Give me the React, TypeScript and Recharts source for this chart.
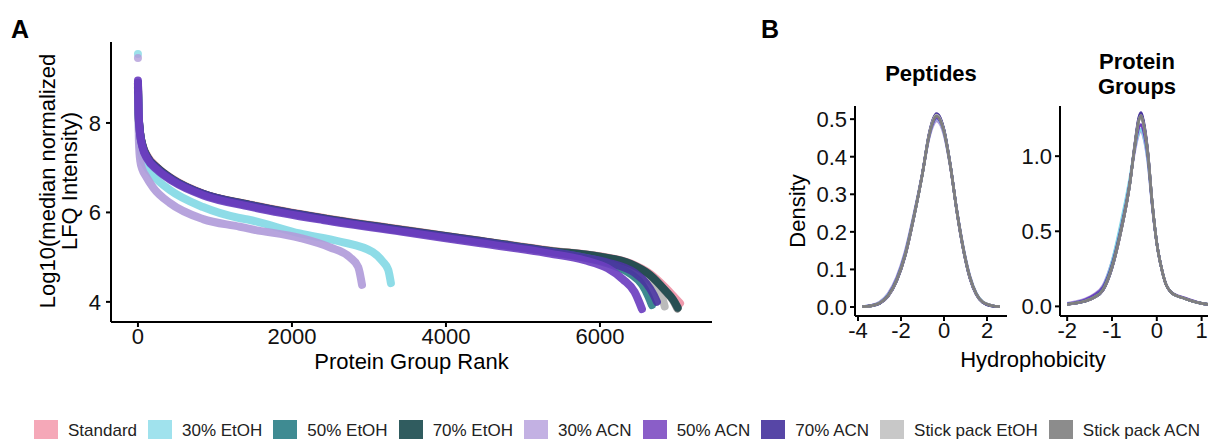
import React from 'react';
import { ComposedChart, LineChart, Line, Scatter, XAxis, YAxis } from 'recharts';

const FONT = '"Liberation Sans", Arial, Helvetica, sans-serif';

// ---------- series ----------
const seriesNames = ['Standard', '30% EtOH', '50% EtOH', '70% EtOH', '30% ACN', '50% ACN', '70% ACN', 'Stick pack EtOH', 'Stick pack ACN'];
const swatchColors = ['#F5A8B8', '#A0E2ED', '#3F8B92', '#305C5F', '#C3B1E3', '#8A5EC8', '#5746A6', '#C8C8C8', '#8C8C8C'];
const curveColors = ['#EE93A6', '#84D9E5', '#2E8087', '#1E4A4E', '#B19CDA', '#6C3FC0', '#4A35A0', '#B5B5B5', '#7E7E7E'];

// ---------- Panel A: protein group rank vs log10 intensity ----------
const rankTicks = [0, 2000, 4000, 6000];
const lfqTicks = [4, 6, 8];

const rankStandard = [0, 8, 25, 60, 120, 250, 450, 850, 1450, 2400, 3500, 4450, 5350, 6000, 6400, 6650, 6850, 6970, 7040];
const lfqStandard = [8.85, 8.15, 7.8, 7.5, 7.27, 7.01, 6.75, 6.42, 6.18, 5.88, 5.6, 5.37, 5.15, 5.02, 4.86, 4.63, 4.32, 4.1, 3.97];

const rank30EtOH = [3, 12, 30, 60, 100, 200, 415, 845, 1300, 1455, 2100, 2620, 3050, 3180, 3250, 3285];
const lfq30EtOH = [8.6, 7.9, 7.45, 7.2, 7.05, 6.82, 6.5, 6.12, 5.88, 5.83, 5.53, 5.35, 5.11, 4.9, 4.72, 4.42];

const rank50EtOH = [0, 8, 25, 60, 120, 250, 450, 850, 1450, 2400, 3500, 4450, 5350, 5800, 6100, 6400, 6550, 6630, 6675];
const lfq50EtOH = [8.8, 8.25, 7.8, 7.47, 7.22, 6.97, 6.72, 6.4, 6.15, 5.85, 5.57, 5.34, 5.12, 4.99, 4.86, 4.62, 4.38, 4.12, 3.93];

const rank70EtOH = [0, 8, 25, 60, 120, 250, 450, 850, 1450, 2400, 3500, 4450, 5350, 6000, 6400, 6650, 6850, 6950, 7010];
const lfq70EtOH = [8.9, 8.2, 7.82, 7.5, 7.25, 7.0, 6.74, 6.41, 6.17, 5.87, 5.59, 5.36, 5.14, 5.01, 4.85, 4.6, 4.25, 4.05, 3.87];

const rank30ACN = [3, 12, 30, 60, 100, 200, 415, 845, 1325, 1455, 2100, 2490, 2750, 2860, 2910];
const lfq30ACN = [8.5, 7.6, 7.15, 6.95, 6.82, 6.55, 6.21, 5.85, 5.68, 5.63, 5.43, 5.22, 5.0, 4.78, 4.38];

const rank50ACN = [0, 8, 25, 60, 120, 250, 450, 850, 1450, 2400, 3500, 4450, 5350, 5800, 6100, 6300, 6450, 6545];
const lfq50ACN = [8.95, 8.3, 7.8, 7.45, 7.2, 6.95, 6.7, 6.38, 6.13, 5.83, 5.55, 5.31, 5.08, 4.93, 4.75, 4.5, 4.22, 3.84];

const rank70ACN = [0, 8, 25, 60, 120, 250, 450, 850, 1450, 2400, 3500, 4450, 5350, 5800, 6100, 6450, 6600, 6700, 6740];
const lfq70ACN = [8.9, 8.22, 7.8, 7.47, 7.23, 6.98, 6.73, 6.41, 6.16, 5.86, 5.58, 5.35, 5.12, 4.99, 4.88, 4.65, 4.42, 4.15, 4.0];

const rankStickEtOH = [0, 8, 25, 60, 120, 250, 450, 850, 1450, 2400, 3500, 4450, 5350, 6000, 6350, 6600, 6750, 6810, 6840];
const lfqStickEtOH = [8.7, 8.1, 7.78, 7.47, 7.23, 6.98, 6.73, 6.41, 6.16, 5.86, 5.58, 5.35, 5.13, 4.98, 4.8, 4.55, 4.28, 4.08, 3.9];

const rankStickACN = [0, 8, 25, 60, 120, 250, 450, 850, 1450, 2400, 3500, 4450, 5350, 6000, 6400, 6650, 6850, 6950, 7005];
const lfqStickACN = [8.8, 8.18, 7.81, 7.49, 7.24, 6.99, 6.73, 6.41, 6.17, 5.87, 5.59, 5.36, 5.14, 5.01, 4.84, 4.6, 4.24, 4.03, 3.85];

// isolated top points
const topSeriesIndex = [1, 4];
const topRank = [0, 0];
const topLfq = [9.54, 9.45];

const rankArrays = [rankStandard, rank30EtOH, rank50EtOH, rank70EtOH, rank30ACN, rank50ACN, rank70ACN, rankStickEtOH, rankStickACN];
const lfqArrays = [lfqStandard, lfq30EtOH, lfq50EtOH, lfq70EtOH, lfq30ACN, lfq50ACN, lfq70ACN, lfqStickEtOH, lfqStickACN];
const drawOrderA = [7, 0, 8, 3, 2, 1, 4, 6, 5];

// ---------- Panel B: hydrophobicity densities ----------
const pepTicksX = [-4, -2, 0, 2];
const pepTicksY = [0, 0.1, 0.2, 0.3, 0.4, 0.5];
const pepHydro = [-3.8, -3.4, -3.0, -2.6, -2.2, -1.8, -1.4, -1.0, -0.7, -0.5, -0.35, -0.2, 0.0, 0.3, 0.6, 0.9, 1.2, 1.5, 1.8, 2.2, 2.6];
const pepStandard = [0.001, 0.003, 0.010, 0.029, 0.071, 0.139, 0.240, 0.356, 0.456, 0.497, 0.509, 0.501, 0.468, 0.374, 0.254, 0.154, 0.079, 0.034, 0.013, 0.004, 0.001];
const pep30EtOH = [0.001, 0.004, 0.012, 0.033, 0.076, 0.145, 0.244, 0.357, 0.452, 0.490, 0.502, 0.494, 0.463, 0.373, 0.256, 0.157, 0.082, 0.036, 0.014, 0.004, 0.001];
const pep50EtOH = [0.001, 0.003, 0.010, 0.030, 0.072, 0.140, 0.241, 0.356, 0.457, 0.498, 0.511, 0.503, 0.470, 0.375, 0.254, 0.154, 0.079, 0.034, 0.013, 0.004, 0.001];
const pep70EtOH = [0.001, 0.003, 0.009, 0.029, 0.070, 0.138, 0.239, 0.356, 0.458, 0.500, 0.513, 0.505, 0.471, 0.376, 0.254, 0.153, 0.078, 0.034, 0.012, 0.003, 0.001];
const pep30ACN = [0.001, 0.004, 0.013, 0.036, 0.080, 0.150, 0.248, 0.358, 0.448, 0.484, 0.495, 0.488, 0.458, 0.371, 0.257, 0.159, 0.084, 0.037, 0.014, 0.004, 0.001];
const pep50ACN = [0.001, 0.004, 0.011, 0.032, 0.075, 0.144, 0.243, 0.356, 0.452, 0.491, 0.503, 0.496, 0.465, 0.374, 0.256, 0.156, 0.081, 0.035, 0.013, 0.004, 0.001];
const pep70ACN = [0.001, 0.003, 0.009, 0.028, 0.069, 0.137, 0.239, 0.357, 0.460, 0.502, 0.515, 0.507, 0.472, 0.376, 0.253, 0.152, 0.077, 0.033, 0.012, 0.003, 0.001];
const pepStickEtOH = [0.001, 0.003, 0.010, 0.029, 0.071, 0.139, 0.240, 0.356, 0.457, 0.499, 0.511, 0.503, 0.469, 0.375, 0.254, 0.154, 0.079, 0.034, 0.013, 0.004, 0.001];
const pepStickACN = [0.001, 0.003, 0.010, 0.030, 0.071, 0.139, 0.240, 0.355, 0.455, 0.496, 0.508, 0.500, 0.467, 0.374, 0.255, 0.155, 0.080, 0.035, 0.013, 0.004, 0.001];

const pgTicksX = [-2, -1, 0, 1];
const pgTicksY = [0, 0.5, 1.0];
const pgHydro = [-2.0, -1.8, -1.6, -1.4, -1.2, -1.0, -0.8, -0.6, -0.5, -0.4, -0.35, -0.3, -0.2, -0.1, 0.0, 0.1, 0.2, 0.3, 0.45, 0.6, 0.8, 1.0, 1.2];
const pgStandard = [0.013, 0.022, 0.035, 0.06, 0.11, 0.26, 0.50, 0.82, 1.05, 1.24, 1.27, 1.22, 1.02, 0.68, 0.42, 0.26, 0.15, 0.10, 0.07, 0.055, 0.035, 0.02, 0.012];
const pg30EtOH = [0.015, 0.026, 0.042, 0.07, 0.13, 0.30, 0.56, 0.86, 1.04, 1.16, 1.18, 1.14, 0.97, 0.67, 0.42, 0.26, 0.15, 0.10, 0.07, 0.055, 0.035, 0.02, 0.012];
const pg50EtOH = [0.014, 0.023, 0.036, 0.062, 0.115, 0.27, 0.51, 0.82, 1.05, 1.24, 1.27, 1.22, 1.02, 0.68, 0.42, 0.26, 0.15, 0.10, 0.07, 0.055, 0.035, 0.02, 0.012];
const pg70EtOH = [0.013, 0.022, 0.034, 0.058, 0.108, 0.255, 0.50, 0.82, 1.05, 1.25, 1.28, 1.23, 1.02, 0.68, 0.42, 0.26, 0.15, 0.10, 0.07, 0.055, 0.035, 0.02, 0.012];
const pg30ACN = [0.02, 0.032, 0.05, 0.08, 0.14, 0.30, 0.54, 0.84, 1.02, 1.15, 1.17, 1.13, 0.96, 0.66, 0.42, 0.26, 0.15, 0.10, 0.075, 0.06, 0.04, 0.02, 0.012];
const pg50ACN = [0.018, 0.028, 0.045, 0.075, 0.13, 0.28, 0.52, 0.83, 1.04, 1.19, 1.21, 1.17, 0.99, 0.67, 0.42, 0.26, 0.15, 0.10, 0.072, 0.058, 0.038, 0.02, 0.012];
const pg70ACN = [0.012, 0.021, 0.034, 0.058, 0.107, 0.255, 0.50, 0.82, 1.06, 1.26, 1.29, 1.24, 1.03, 0.68, 0.42, 0.26, 0.15, 0.10, 0.07, 0.055, 0.035, 0.02, 0.012];
const pgStickEtOH = [0.013, 0.022, 0.035, 0.06, 0.11, 0.26, 0.50, 0.82, 1.05, 1.24, 1.27, 1.22, 1.02, 0.68, 0.42, 0.26, 0.15, 0.10, 0.07, 0.055, 0.035, 0.02, 0.012];
const pgStickACN = [0.013, 0.022, 0.035, 0.06, 0.11, 0.26, 0.50, 0.82, 1.05, 1.24, 1.27, 1.22, 1.02, 0.68, 0.42, 0.26, 0.15, 0.10, 0.07, 0.055, 0.035, 0.02, 0.012];

const pepArrays = [pepStandard, pep30EtOH, pep50EtOH, pep70EtOH, pep30ACN, pep50ACN, pep70ACN, pepStickEtOH, pepStickACN];
const pgArrays = [pgStandard, pg30EtOH, pg50EtOH, pg70EtOH, pg30ACN, pg50ACN, pg70ACN, pgStickEtOH, pgStickACN];
const drawOrderB = [4, 1, 5, 0, 2, 3, 6, 7, 8];

// ---------- built tables ----------
const curvesA = rankArrays.map((ranks, i) => ranks.map((r, j) => ({ rank: r, v: lfqArrays[i][j] })));
const topPoints = topSeriesIndex.map((s, k) => ({ s, data: [{ rank: topRank[k], v: topLfq[k] }] }));
const buildRows = (xs: number[], arrays: number[][]) =>
  xs.map((x, j) => {
    const row: Record<string, number> = { x };
    arrays.forEach((arr, i) => { row['s' + i] = arr[j]; });
    return row;
  });
const pepRows = buildRows(pepHydro, pepArrays);
const pgRows = buildRows(pgHydro, pgArrays);

const axisStyle = { stroke: '#000', strokeWidth: 2 };
const tickStyle = { fill: '#111', fontSize: 22, fontFamily: FONT };
const fmt1 = (v: number) => v.toFixed(1);

export default function App() {
  return (
    <div style={{ position: 'absolute', left: 0, top: 0, width: 1208, height: 439, overflow: 'hidden', background: '#fff', fontFamily: FONT }}>
      {/* Panel A */}
      <div style={{ position: 'absolute', left: 0, top: 0 }}>
        <ComposedChart width={730} height={380} margin={{ top: 42, right: 18, bottom: 8, left: 0 }}>
          <XAxis type="number" dataKey="rank" domain={[-350, 7455]} ticks={rankTicks} allowDataOverflow
            height={50} tickSize={5} tickMargin={1} tick={tickStyle} axisLine={axisStyle} tickLine={axisStyle} />
          <YAxis type="number" dataKey="v" domain={[3.55, 9.81]} ticks={lfqTicks} allowDataOverflow
            width={111} tickSize={5} tickMargin={5} tick={tickStyle} axisLine={axisStyle} tickLine={axisStyle} />
          {drawOrderA.map((i) => (
            <Line key={'a' + i} data={curvesA[i]} dataKey="v" type="monotone" stroke={curveColors[i]} strokeWidth={8}
              strokeOpacity={0.92} strokeLinecap="round" strokeLinejoin="round" dot={false} activeDot={false}
              isAnimationActive={false} name={seriesNames[i]} />
          ))}
          {topPoints.map((t) => (
            <Scatter key={'t' + t.s} data={t.data} dataKey="v" isAnimationActive={false} name={seriesNames[t.s]}
              shape={(p: any) => <circle cx={p.cx} cy={p.cy} r={4} fill={curveColors[t.s]} fillOpacity={0.8} />} />
          ))}
        </ComposedChart>
      </div>

      {/* Panel B - Peptides */}
      <div style={{ position: 'absolute', left: 760, top: 40 }}>
        <LineChart width={260} height={316} data={pepRows} margin={{ top: 66, right: 13, bottom: 0, left: 0 }}>
          <XAxis type="number" dataKey="x" domain={[-4.14, 2.93]} ticks={pepTicksX} allowDataOverflow
            height={40} tickSize={5} tickMargin={1} tick={tickStyle} axisLine={axisStyle} tickLine={axisStyle} />
          <YAxis type="number" domain={[-0.024, 0.535]} ticks={pepTicksY} allowDataOverflow tickFormatter={fmt1}
            width={95} tickSize={5} tickMargin={3} tick={tickStyle} axisLine={axisStyle} tickLine={axisStyle} />
          {drawOrderB.map((i) => (
            <Line key={'p' + i} dataKey={'s' + i} type="monotone" stroke={curveColors[i]} strokeWidth={2.6}
              dot={false} activeDot={false} isAnimationActive={false} name={seriesNames[i]} />
          ))}
        </LineChart>
      </div>

      {/* Panel B - Protein Groups */}
      <div style={{ position: 'absolute', left: 970, top: 40 }}>
        <LineChart width={260} height={316} data={pgRows} margin={{ top: 66, right: 10, bottom: 0, left: 0 }}>
          <XAxis type="number" dataKey="x" domain={[-2.16, 1.41]} ticks={pgTicksX} allowDataOverflow
            height={40} tickSize={5} tickMargin={1} tick={tickStyle} axisLine={axisStyle} tickLine={axisStyle} />
          <YAxis type="number" domain={[-0.064, 1.334]} ticks={pgTicksY} allowDataOverflow tickFormatter={fmt1}
            width={90} tickSize={5} tickMargin={3} tick={tickStyle} axisLine={axisStyle} tickLine={axisStyle} />
          {drawOrderB.map((i) => (
            <Line key={'g' + i} dataKey={'s' + i} type="monotone" stroke={curveColors[i]} strokeWidth={2.6}
              dot={false} activeDot={false} isAnimationActive={false} name={seriesNames[i]} />
          ))}
        </LineChart>
      </div>

      {/* Titles and axis labels */}
      <svg width={1208} height={439} style={{ position: 'absolute', left: 0, top: 0, pointerEvents: 'none' }}>
        <g fontFamily={FONT} fill="#000">
          <text x={11} y={38} fontSize={25} fontWeight="bold">A</text>
          <text x={761} y={38} fontSize={25} fontWeight="bold">B</text>
          <text transform="translate(55,181) rotate(-90)" textAnchor="middle" fontSize={22}>Log10(median normalized</text>
          <text transform="translate(77,181) rotate(-90)" textAnchor="middle" fontSize={22}>LFQ Intensity)</text>
          <text x={411.5} y={369} textAnchor="middle" fontSize={22}>Protein Group Rank</text>
          <text transform="translate(805,211) rotate(-90)" textAnchor="middle" fontSize={22}>Density</text>
          <text x={1033} y={367} textAnchor="middle" fontSize={22}>Hydrophobicity</text>
          <text x={931} y={81} textAnchor="middle" fontSize={22} fontWeight="bold">Peptides</text>
          <text x={1137} y={69} textAnchor="middle" fontSize={22} fontWeight="bold">Protein</text>
          <text x={1137} y={94} textAnchor="middle" fontSize={22} fontWeight="bold">Groups</text>
        </g>
      </svg>

      {/* Legend */}
      <div style={{ position: 'absolute', left: 34, top: 420, display: 'flex', alignItems: 'flex-start', fontSize: 17, lineHeight: '17px', whiteSpace: 'nowrap', color: '#222', width: 'max-content' }}>
        {seriesNames.map((n, i) => (
          <div key={n} style={{ display: 'flex', alignItems: 'flex-start', marginRight: 11, flexShrink: 0 }}>
            <span style={{ display: 'inline-block', width: 24, height: 19, background: swatchColors[i], marginRight: 10, flexShrink: 0 }} />
            <span style={{ flexShrink: 0, marginTop: 1.5 }}>{n}</span>
          </div>
        ))}
      </div>
    </div>
  );
}
